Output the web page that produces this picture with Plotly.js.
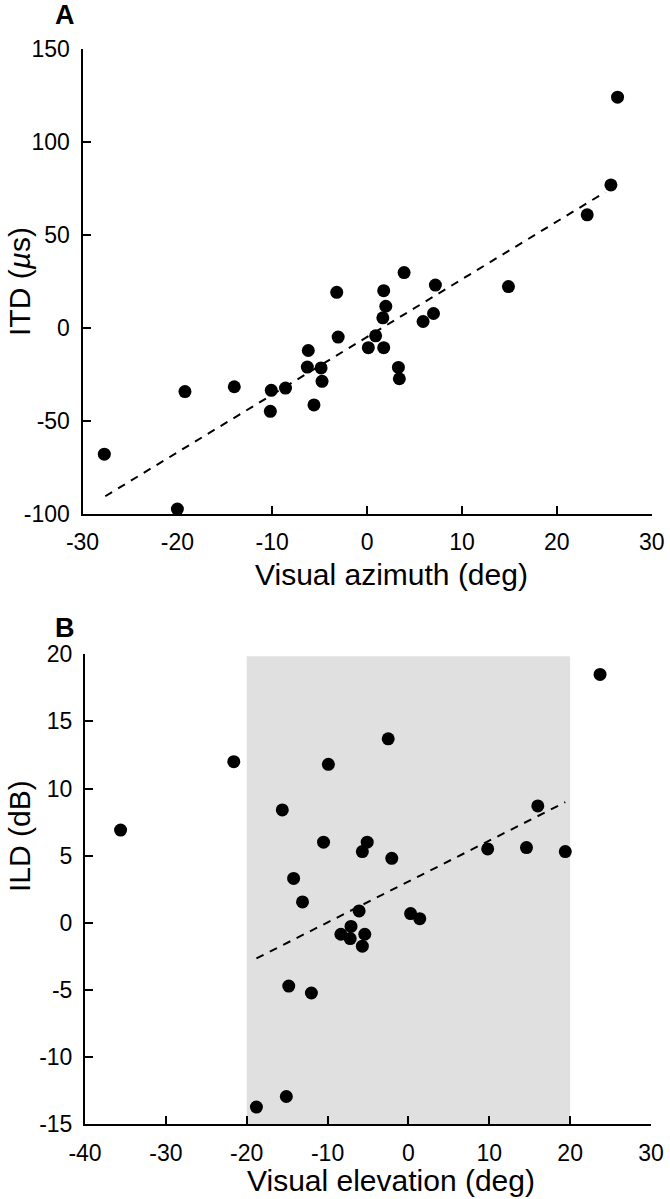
<!DOCTYPE html>
<html>
<head>
<meta charset="utf-8">
<script src="https://cdn.plot.ly/plotly-3.0.1.min.js"></script>
<style>html,body{margin:0;padding:0;background:#fff;}#chart{width:670px;height:1199px;}</style>
</head>
<body>
<div id="chart"></div>
<script>
// Panel A: visual azimuth (deg) vs ITD (µs)
const azimuth = [26.4, 25.7, 23.2, 3.9, -3.2, 1.75, 7.2, 14.9, 1.97, 1.66, 7.0, 5.9, -3.05, 0.9, 0.13, 1.75, -6.2, -6.3, -4.85, 3.3, 3.4, -4.75, -14.0, -10.1, -8.6, -19.2, -5.6, -10.2, -27.7, -20.0];
const itd = [124.1, 76.9, 60.8, 29.7, 19.1, 20, 23, 22.2, 11.6, 5.4, 7.7, 3.4, -5.0, -4.3, -10.7, -10.7, -12.2, -21.1, -21.6, -21.3, -27.4, -28.8, -31.7, -33.6, -32.4, -34.3, -41.5, -44.9, -68, -97.5];
const fitA_x = [-27.6, 25.1];
const fitA_y = [-90.6, 73.0];

// Panel B: visual elevation (deg) vs ILD (dB)
const elevation = [23.7, -21.6, -9.9, -2.5, -35.6, -15.6, 16.0, -10.5, -5.1, -5.7, -2.06, 9.8, 14.6, 19.4, -14.2, -13.1, -6.1, 0.27, 1.4, -7.1, -8.35, -5.4, -7.2, -5.7, -14.8, -12.0, -15.1, -18.8];
const ild = [18.5, 12.0, 11.8, 13.7, 6.9, 8.4, 8.7, 6.0, 6.0, 5.3, 4.8, 5.5, 5.6, 5.3, 3.3, 1.55, 0.88, 0.68, 0.3, -0.28, -0.86, -0.86, -1.18, -1.75, -4.72, -5.24, -12.95, -13.74];
const fitB_x = [-18.8, 19.4];
const fitB_y = [-2.66, 8.98];
const shadedRange = [-20, 20];
const shadedY = [-15, 19.85];

// Tick labels (hyphen-minus as in the original)
const ticksA_x = [-30, -20, -10, 0, 10, 20, 30];
const ticksA_y = [-100, -50, 0, 50, 100, 150];
const ticksB_x = [-40, -30, -20, -10, 0, 10, 20, 30];
const ticksB_y = [-15, -10, -5, 0, 5, 10, 15, 20];
const labelsA_x = ['-30', '-20', '-10', '0', '10', '20', '30'];
const labelsA_y = ['-100', '-50', '0', '50', '100', '150'];
const labelsB_x = ['-40', '-30', '-20', '-10', '0', '10', '20', '30'];
const labelsB_y = ['-15', '-10', '-5', '0', '5', '10', '15', '20'];

const FONT = 'Liberation Sans, Arial, Helvetica, sans-serif';
const W = 670, H = 1199;
const px = v => v / W;
const py = v => (H - v) / H;

const markerStyle = {color: '#000', size: 13};
const lineStyle = {color: '#000', width: 2, dash: '8px,7px'};

const traces = [
  {x: fitA_x, y: fitA_y, mode: 'lines', line: lineStyle, xaxis: 'x', yaxis: 'y', hoverinfo: 'skip'},
  {x: azimuth, y: itd, mode: 'markers', marker: markerStyle, xaxis: 'x', yaxis: 'y', cliponaxis: false},
  {x: fitB_x, y: fitB_y, mode: 'lines', line: lineStyle, xaxis: 'x2', yaxis: 'y2', hoverinfo: 'skip'},
  {x: elevation, y: ild, mode: 'markers', marker: markerStyle, xaxis: 'x2', yaxis: 'y2', cliponaxis: false}
];

const axisCommon = {
  showgrid: false, zeroline: false, showline: true, linecolor: '#000', linewidth: 2,
  ticks: 'inside', ticklen: 8, tickwidth: 2, tickcolor: '#000', tickmode: 'array',
  tickfont: {family: FONT, size: 23, color: '#000'}, automargin: false, fixedrange: true
};

const layout = {
  width: W, height: H,
  margin: {l: 0, r: 0, t: 0, b: 0},
  paper_bgcolor: '#fff', plot_bgcolor: 'rgba(0,0,0,0)',
  showlegend: false,
  font: {family: FONT, color: '#000'},
  xaxis: Object.assign({}, axisCommon, {domain: [px(82.5), px(651.7)], range: [-30, 30], tickvals: ticksA_x, ticktext: labelsA_x, anchor: 'y', ticklabelstandoff: 7}),
  yaxis: Object.assign({}, axisCommon, {domain: [py(513.7), py(49)], range: [-100, 150], tickvals: ticksA_y, ticktext: labelsA_y, anchor: 'x', ticklabelstandoff: 6}),
  xaxis2: Object.assign({}, axisCommon, {domain: [px(85), px(651)], range: [-40, 30], tickvals: ticksB_x, ticktext: labelsB_x, anchor: 'y2', ticklabelstandoff: 7}),
  yaxis2: Object.assign({}, axisCommon, {domain: [py(1124), py(654.3)], range: [-15, 20], tickvals: ticksB_y, ticktext: labelsB_y, anchor: 'x2', ticklabelstandoff: 6}),
  shapes: [{
    type: 'rect', xref: 'x2', yref: 'y2', layer: 'below',
    x0: shadedRange[0], x1: shadedRange[1], y0: shadedY[0], y1: shadedY[1],
    fillcolor: '#e0e0e0', line: {width: 0}
  }],
  annotations: [
    {text: '<b>A</b>', xref: 'paper', yref: 'paper', x: px(65), y: py(15), showarrow: false, font: {family: FONT, size: 27, color: '#000'}, xanchor: 'center', yanchor: 'middle'},
    {text: '<b>B</b>', xref: 'paper', yref: 'paper', x: px(65), y: py(628), showarrow: false, font: {family: FONT, size: 27, color: '#000'}, xanchor: 'center', yanchor: 'middle'},
    {text: 'Visual azimuth (deg)', xref: 'paper', yref: 'paper', x: px(391.5), y: py(574), showarrow: false, font: {family: FONT, size: 30, color: '#000'}, xanchor: 'center', yanchor: 'middle'},
    {text: 'Visual elevation (deg)', xref: 'paper', yref: 'paper', x: px(391), y: py(1180), showarrow: false, font: {family: FONT, size: 30, color: '#000'}, xanchor: 'center', yanchor: 'middle'},
    {text: 'ITD (<i>µ</i>s)', xref: 'paper', yref: 'paper', x: px(19), y: py(282), textangle: -90, showarrow: false, font: {family: FONT, size: 30, color: '#000'}, xanchor: 'center', yanchor: 'middle'},
    {text: 'ILD (dB)', xref: 'paper', yref: 'paper', x: px(19), y: py(836), textangle: -90, showarrow: false, font: {family: FONT, size: 30, color: '#000'}, xanchor: 'center', yanchor: 'middle'}
  ]
};

Plotly.newPlot('chart', traces, layout, {displayModeBar: false, staticPlot: true});
</script>
</body>
</html>
